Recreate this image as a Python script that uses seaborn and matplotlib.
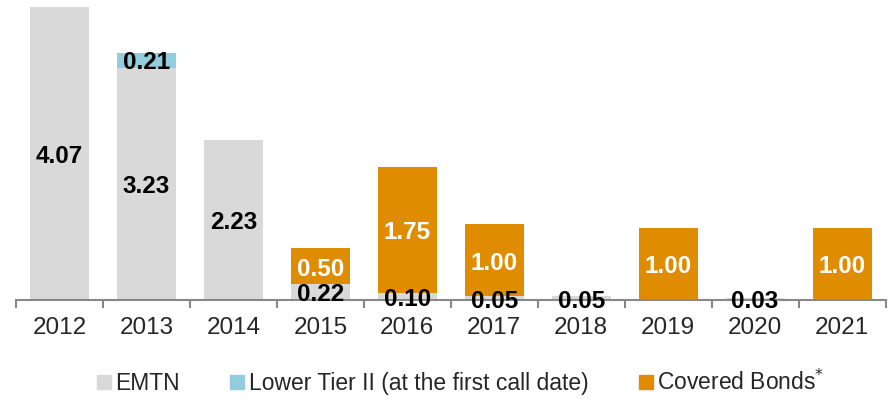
import numpy as np
import pandas as pd
import matplotlib
matplotlib.use("Agg")
import matplotlib.pyplot as plt
import seaborn as sns
from matplotlib.lines import Line2D

# Datos de vencimientos (miles de millones)
years = ["2012", "2013", "2014", "2015", "2016", "2017", "2018", "2019", "2020", "2021"]
emtn = [4.07, 3.23, 2.23, 0.22, 0.10, 0.05, 0.05, 0.00, 0.03, 0.00]
lower_tier2 = [0.00, 0.21, 0.00, 0.00, 0.00, 0.00, 0.00, 0.00, 0.00, 0.00]
covered = [0.00, 0.00, 0.00, 0.50, 1.75, 1.00, 0.00, 1.00, 0.00, 1.00]

series_names = ["EMTN", "Lower Tier II (at the first call date)", "Covered Bonds$^{*}$"]
colors = ["#D9D9D9", "#93CDDD", "#DF8C00"]
label_colors = ["black", "black", "white"]

sns.set_style("white")
plt.rcParams['font.family'] = ['Liberation Sans', 'DejaVu Sans']

df = pd.DataFrame({"year": years, "EMTN": emtn, "LT2": lower_tier2, "CB": covered})

fig = plt.figure(figsize=(8.9, 4), dpi=100)
ax = fig.add_axes([0.018, 0.25, 0.977, 0.75])

bottom = np.zeros(len(years))
for col, color, lc in zip(["EMTN", "LT2", "CB"], colors, label_colors):
    vals = df[col].values
    sns.barplot(x="year", y=col, data=df, color=color, width=0.68,
                bottom=bottom, ax=ax, saturation=1, linewidth=0)
    for i, v in enumerate(vals):
        if v > 0:
            ax.text(i, bottom[i] + v / 2 - 0.04, f"{v:.2f}", ha="center", va="center",
                    fontsize=17.5, fontweight="bold", color=lc)
    bottom = bottom + vals

ax.set_xlim(-0.5, len(years) - 0.5)
ax.set_ylim(0, 4.17)
ax.set_xlabel("")
ax.set_ylabel("")
ax.set_yticks([])
for s in ["top", "right", "left"]:
    ax.spines[s].set_visible(False)
ax.spines["bottom"].set_color("#888888")
ax.spines["bottom"].set_linewidth(1.5)

# marcas entre categorías
ax.set_xticks(np.arange(-0.5, len(years)), minor=True)
ax.tick_params(axis="x", which="minor", bottom=True, length=6, width=1.5,
               color="#888888", direction="out")
ax.tick_params(axis="x", which="major", bottom=True, length=0, pad=12, labelsize=17.5)

handles = [Line2D([0], [0], marker="s", linestyle="", markersize=9.5,
                  markerfacecolor=c, markeredgecolor=c) for c in colors]
fig.legend(handles, series_names, loc="center", bbox_to_anchor=(0.515, 0.045),
           ncol=3, frameon=False, handletextpad=0.0,
           columnspacing=2.0, handlelength=1.0, fontsize=16.5)

fig.savefig("out.png", dpi=100)
